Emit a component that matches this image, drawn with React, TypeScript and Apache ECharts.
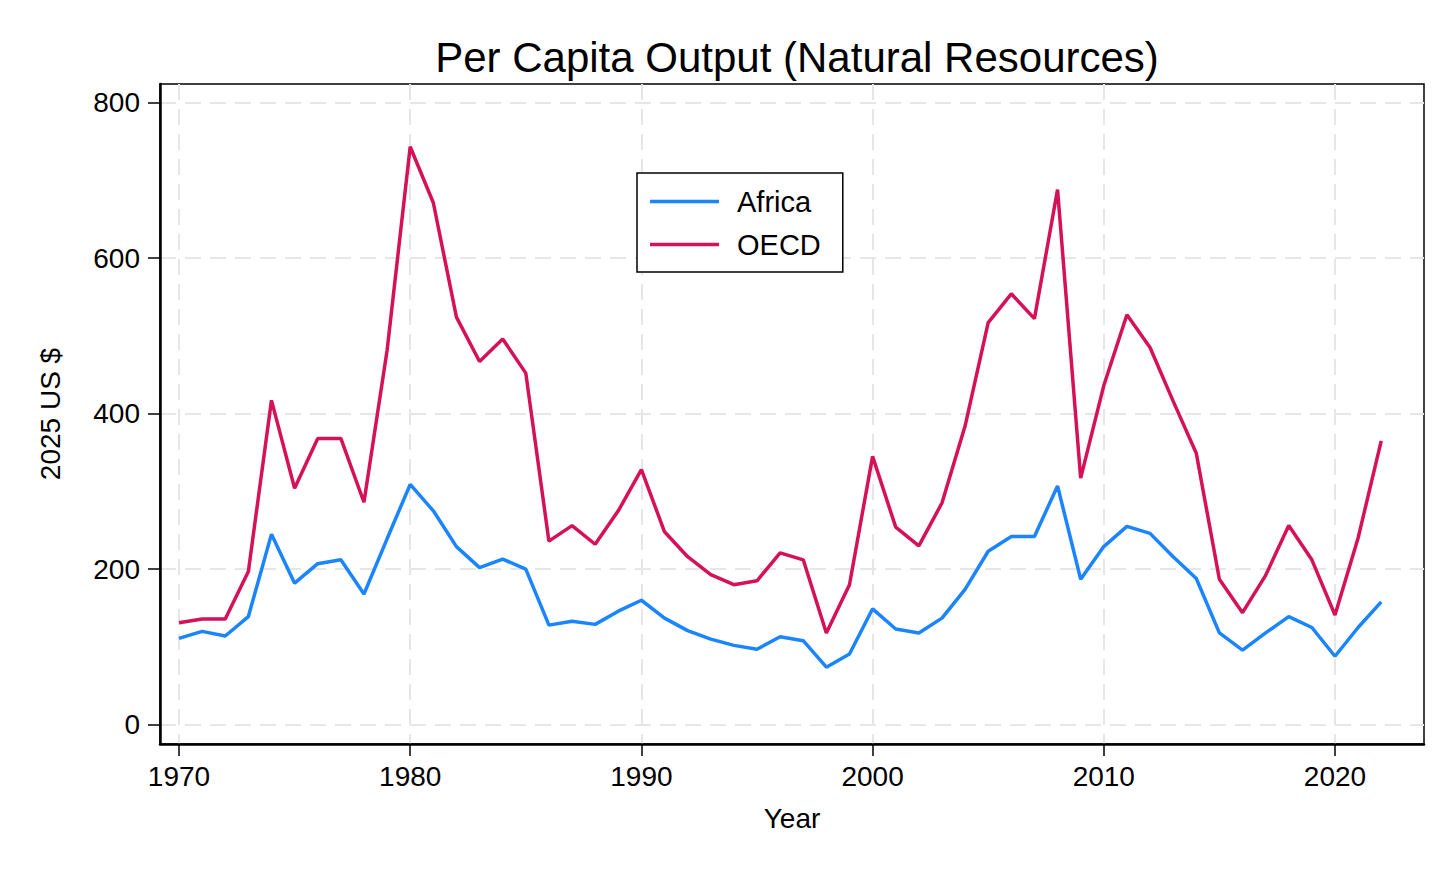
import React, { useEffect, useRef } from "react";
import * as echarts from "echarts";

const years = [
  1970, 1971, 1972, 1973, 1974, 1975, 1976, 1977, 1978, 1979,
  1980, 1981, 1982, 1983, 1984, 1985, 1986, 1987, 1988, 1989,
  1990, 1991, 1992, 1993, 1994, 1995, 1996, 1997, 1998, 1999,
  2000, 2001, 2002, 2003, 2004, 2005, 2006, 2007, 2008, 2009,
  2010, 2011, 2012, 2013, 2014, 2015, 2016, 2017, 2018, 2019,
  2020, 2021, 2022,
];

const africa = [
  111, 120, 114, 139, 245, 182, 207, 212, 168, 239,
  309, 275, 229, 202, 213, 200, 128, 133, 129, 146,
  160, 137, 121, 110, 102, 97, 113, 108, 74, 91,
  149, 123, 118, 137, 174, 223, 242, 242, 307, 187,
  229, 255, 246, 216, 188, 118, 96, 118, 139, 125,
  88, 125, 158,
];

const oecd = [
  131, 136, 136, 197, 417, 304, 368, 368, 286, 481,
  743, 671, 524, 467, 496, 452, 236, 256, 232, 275,
  328, 248, 216, 193, 180, 185, 221, 212, 118, 180,
  345, 254, 230, 285, 384, 517, 554, 522, 688, 317,
  436, 527, 485, 416, 349, 187, 144, 192, 256, 212,
  141, 240, 365,
];

const xTicks = [1970, 1980, 1990, 2000, 2010, 2020];
const yTicks = [0, 200, 400, 600, 800];

const FONT = "'Liberation Sans', Arial, Helvetica, sans-serif";
const AFRICA_COLOR = "#1A85FF";
const OECD_COLOR = "#D41159";

export default function App() {
  const ref = useRef<HTMLDivElement>(null);

  useEffect(() => {
    document.body.style.margin = "0";
    if (!ref.current) return;
    const chart = echarts.init(ref.current, undefined, { renderer: "svg" });
    const grid = { left: 160, right: 32, top: 84, bottom: 129 };
    const splitStyle = {
      show: true,
      lineStyle: { color: "#e6e6e6", width: 2, type: [16, 9] as any },
    };
    chart.setOption({
      animation: false,
      backgroundColor: "#ffffff",
      textStyle: { fontFamily: FONT },
      title: {
        text: "Per Capita Output (Natural Resources)",
        left: 792,
        textAlign: "center",
        top: 31,
        textStyle: { fontFamily: FONT, fontSize: 42, fontWeight: "normal", color: "#000" },
      },
      grid: { ...grid, show: true, borderColor: "#000", borderWidth: 1.5, backgroundColor: "transparent" },
      legend: {
        orient: "vertical",
        left: 637,
        top: 173,
        padding: [14, 22, 13, 13],
        icon: "rect",
        itemWidth: 69,
        itemHeight: 3.5,
        itemGap: 14,
        borderColor: "#000",
        borderWidth: 1.5,
        backgroundColor: "#fff",
        textStyle: { fontFamily: FONT, fontSize: 29, lineHeight: 28, color: "#000", padding: [0, 0, 0, 13] },
        data: [
          { name: "Africa", itemStyle: { color: AFRICA_COLOR } },
          { name: "OECD", itemStyle: { color: OECD_COLOR } },
        ],
      },
      xAxis: {
        type: "value",
        min: 1969.178,
        max: 2023.85,
        name: "Year",
        nameLocation: "middle",
        nameGap: 60,
        nameTextStyle: { fontFamily: FONT, fontSize: 28, color: "#000" },
        axisLine: { show: true, onZero: false, lineStyle: { color: "#000", width: 2.5 } },
        axisTick: { show: true, length: 12, customValues: xTicks, lineStyle: { color: "#000", width: 1.5 } },
        axisLabel: {
          customValues: xTicks,
          margin: 18,
          fontFamily: FONT,
          fontSize: 28,
          color: "#000",
          formatter: (v: number) => String(Math.round(v)),
        },
        splitLine: splitStyle,
      },
      yAxis: {
        type: "value",
        min: -24.8,
        max: 823.7,
        name: "2025 US $",
        nameLocation: "middle",
        nameGap: 96,
        nameTextStyle: { fontFamily: FONT, fontSize: 28, color: "#000" },
        axisLine: { show: true, onZero: false, lineStyle: { color: "#000", width: 2.5 } },
        axisTick: { show: true, length: 12, customValues: yTicks, lineStyle: { color: "#000", width: 1.5 } },
        axisLabel: {
          customValues: yTicks,
          margin: 20,
          fontFamily: FONT,
          fontSize: 28,
          color: "#000",
          formatter: (v: number) => String(Math.round(v)),
        },
        splitLine: splitStyle,
      },
      series: [
        {
          name: "Africa",
          type: "line",
          symbol: "none",
          showSymbol: false,
          data: years.map((y, i) => [y, africa[i]]),
          lineStyle: { color: AFRICA_COLOR, width: 3.5 },
          itemStyle: { color: AFRICA_COLOR },
          z: 3,
        },
        {
          name: "OECD",
          type: "line",
          symbol: "none",
          showSymbol: false,
          data: years.map((y, i) => [y, oecd[i]]),
          lineStyle: { color: OECD_COLOR, width: 3.5 },
          itemStyle: { color: OECD_COLOR },
          z: 3,
        },
      ],
    });
    return () => chart.dispose();
  }, []);

  return <div ref={ref} style={{ width: 1456, height: 873 }} />;
}
